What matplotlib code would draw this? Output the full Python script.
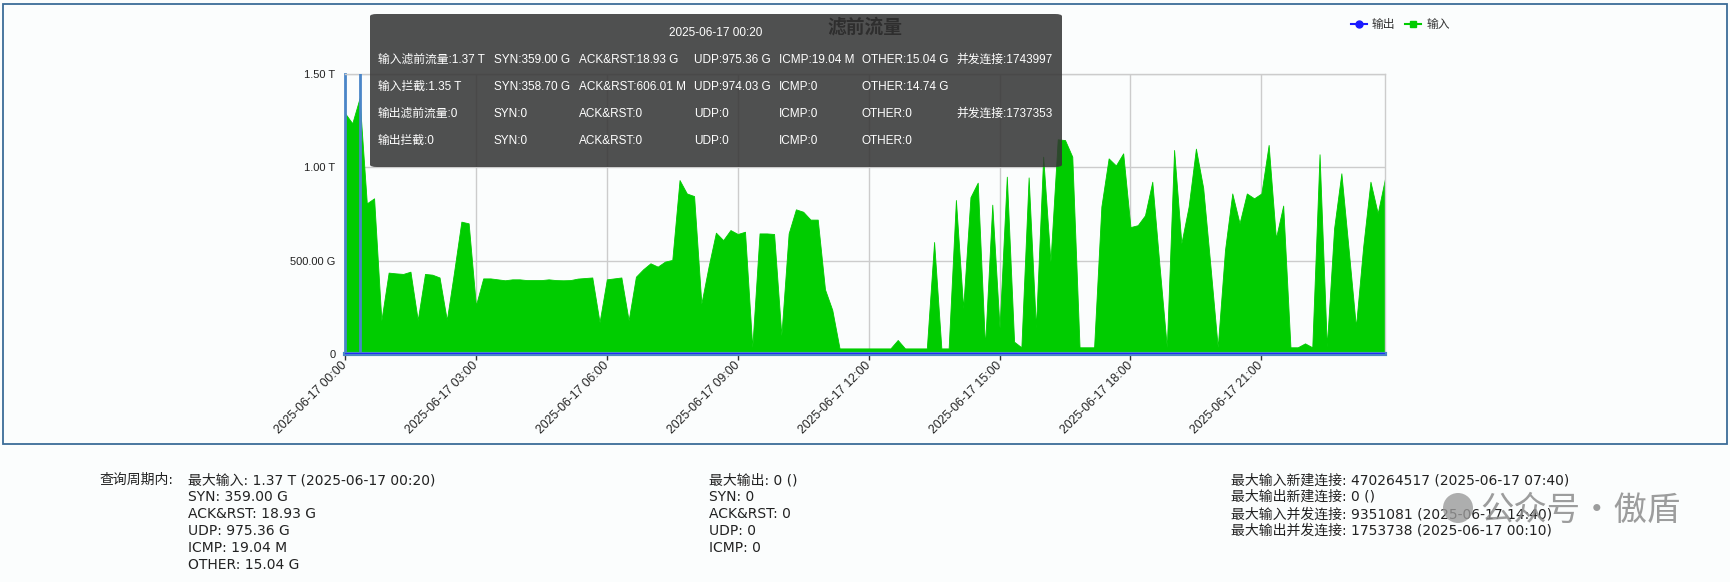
import matplotlib
matplotlib.use("Agg")
import matplotlib.pyplot as plt
import pandas as pd
from matplotlib.patches import FancyBboxPatch, Rectangle, Ellipse
from matplotlib.lines import Line2D

plt.rcParams["font.family"] = ["Liberation Sans", "Noto Sans CJK SC"]

# 输入滤前流量 (T), one value every 10 minutes
in_tbps = [
    1.29, 1.236, 1.37, 0.807, 0.834, 0.18, 0.436, 0.432, 0.429, 0.441, 0.182, 0.429,
    0.425, 0.41, 0.182, 0.44, 0.709, 0.70, 0.26, 0.405, 0.405, 0.40, 0.395, 0.40,
    0.40, 0.396, 0.396, 0.396, 0.40, 0.396, 0.395, 0.396, 0.404, 0.407, 0.41, 0.17,
    0.40, 0.405, 0.41, 0.18, 0.414, 0.454, 0.486, 0.468, 0.495, 0.504, 0.932, 0.86,
    0.846, 0.27, 0.47, 0.65, 0.61, 0.664, 0.643, 0.655, 0.036, 0.646, 0.646, 0.643,
    0.10, 0.646, 0.775, 0.762, 0.72, 0.72, 0.346, 0.236, 0.03, 0.03, 0.03, 0.03,
    0.03, 0.03, 0.03, 0.03, 0.075, 0.03, 0.03, 0.03, 0.03, 0.60, 0.03, 0.03,
    0.825, 0.245, 0.84, 0.918, 0.04, 0.80, 0.14, 0.95, 0.066, 0.036, 0.946, 0.14,
    1.057, 0.495, 1.15, 1.146, 1.057, 0.036, 0.036, 0.036, 0.79, 1.048, 1.01, 1.075,
    0.68, 0.69, 0.743, 0.923, 0.47, 0.036, 1.093, 0.593, 0.79, 1.10, 0.89, 0.47,
    0.036, 0.557, 0.86, 0.70, 0.86, 0.834, 0.86, 1.12, 0.62, 0.795, 0.036, 0.036,
    0.057, 0.036, 1.07, 0.04, 0.673, 0.968, 0.56, 0.146, 0.575, 0.923, 0.754, 0.94,
]
# 输出 is 0 for the whole day
out_tbps = [0.0] * len(in_tbps)

times = pd.date_range("2025-06-17 00:00", periods=len(in_tbps), freq="10min")
hover_idx = 2  # 00:20

y_ticks = [0, 0.5, 1.0, 1.5]
y_labels = ["0", "500.00 G", "1.00 T", "1.50 T"]
x_ticks = pd.date_range("2025-06-17 00:00", periods=8, freq="3h")
x_labels = [t.strftime("%Y-%m-%d %H:%M") for t in x_ticks]

tip_date = "2025-06-17 00:20"
tip_rows = [
    ["输入滤前流量:1.37 T", "SYN:359.00 G", "ACK&RST:18.93 G", "UDP:975.36 G", "ICMP:19.04 M", "OTHER:15.04 G", "并发连接:1743997"],
    ["输入拦截:1.35 T", "SYN:358.70 G", "ACK&RST:606.01 M", "UDP:974.03 G", "ICMP:0", "OTHER:14.74 G", ""],
    ["输出滤前流量:0", "SYN:0", "ACK&RST:0", "UDP:0", "ICMP:0", "OTHER:0", "并发连接:1737353"],
    ["输出拦截:0", "SYN:0", "ACK&RST:0", "UDP:0", "ICMP:0", "OTHER:0", ""],
]

summary_in = ["最大输入: 1.37 T (2025-06-17 00:20)", "SYN: 359.00 G", "ACK&RST: 18.93 G",
              "UDP: 975.36 G", "ICMP: 19.04 M", "OTHER: 15.04 G"]
summary_out = ["最大输出: 0 ()", "SYN: 0", "ACK&RST: 0", "UDP: 0", "ICMP: 0"]
summary_conn = ["最大输入新建连接: 470264517 (2025-06-17 07:40)", "最大输出新建连接: 0 ()",
                "最大输入并发连接: 9351081 (2025-06-17 14:40)", "最大输出并发连接: 1753738 (2025-06-17 00:10)"]

W, H = 1731, 582
fig = plt.figure(figsize=(W / 100, H / 100), dpi=100, facecolor="#fbfdfd")


def fx(px):
    return px / W


def fy(py):
    return 1 - py / H


# outer frame around the chart
fig.patches.append(Rectangle((fx(3), fy(444)), fx(1727) - fx(3), fy(4) - fy(444),
                             transform=fig.transFigure, fill=False,
                             edgecolor="#3b6c98", lw=1.3, zorder=0))

ax = fig.add_axes([fx(345), fy(354), fx(1385) - fx(345), fy(74) - fy(354)])
ax.set_facecolor("none")

ax.fill_between(times, in_tbps, color="#00cc00", lw=0.6, edgecolor="#00cc00", zorder=2)
ax.plot(times, out_tbps, color="#1a1aff", lw=1.2, zorder=4)
ax.axvline(times[hover_idx], color="#4a86c8", lw=2, zorder=3)

ax.set_xlim(times[0], times[-1])
ax.set_ylim(0, 1.5)
ax.set_yticks(y_ticks, y_labels, fontsize=8, color="#222222")
ax.set_xticks(x_ticks, x_labels, fontsize=8.8, color="#222222",
              rotation=45, ha="right", va="center", rotation_mode="anchor")
ax.tick_params(axis="y", length=0, pad=7)
ax.tick_params(axis="x", length=4, width=1, color="#333333", pad=3)
ax.grid(True, color="#cccccc", lw=1, zorder=0)

for side in ["top", "right"]:
    ax.spines[side].set_color("#cccccc")
    ax.spines[side].set_linewidth(1)
ax.spines["left"].set_color("#4a86c8")
ax.spines["left"].set_linewidth(2)
ax.spines["bottom"].set_color("#4a86c8")
ax.spines["bottom"].set_linewidth(3)

fig.text(fx(865), fy(27), "滤前流量", ha="center", va="center", fontsize=13.5,
         fontweight="bold", color="#111111", zorder=1)

# legend
handles = [Line2D([], [], color="#1a1aff", marker="o", markersize=5, lw=1.5),
           Line2D([], [], color="#00cc00", marker="s", markersize=5, lw=1.5)]
fig.legend(handles, ["输出", "输入"], loc="center left",
           bbox_to_anchor=(fx(1340), fy(25)), ncol=2, frameon=False,
           handlelength=1.4, handletextpad=0.4, columnspacing=0.8,
           fontsize=8.5, labelcolor="#333333")

# hover tooltip
fig.patches.append(FancyBboxPatch((fx(370), fy(167)), fx(1062) - fx(370), fy(14) - fy(167),
                                  boxstyle="round,pad=0,rounding_size=0.004",
                                  transform=fig.transFigure, facecolor="#333333",
                                  edgecolor="none", alpha=0.86, zorder=5))
fig.text(fx(716), fy(33), tip_date, ha="center", va="center", fontsize=8.5,
         color="white", zorder=6)
col_x = [378, 494, 579, 694, 779, 862, 956]
row_y = [60, 87, 114, 141]
for r, row in enumerate(tip_rows):
    for c, txt in enumerate(row):
        if txt:
            fig.text(fx(col_x[c]), fy(row_y[r]), txt, ha="left", va="center",
                     fontsize=8.5, color="white", zorder=6)

# summary under the chart
body_font = ["DejaVu Sans", "Noto Sans CJK SC"]
line_y = [480, 497, 514, 531, 548, 565]
fig.text(fx(99), fy(line_y[0]), "查询周期内:", ha="left", va="center",
         fontsize=10, color="#222222", family=body_font)
for col, x in [(summary_in, 188), (summary_out, 709), (summary_conn, 1231)]:
    for k, txt in enumerate(col):
        fig.text(fx(x), fy(line_y[k]), txt, ha="left", va="center",
                 fontsize=10, color="#222222", family=body_font)

# watermark
fig.patches.append(Ellipse((fx(1458), fy(508)), 30 / W, 30 / H, transform=fig.transFigure,
                           facecolor="#9a9a9a", edgecolor="none", alpha=0.8, zorder=7))
fig.text(fx(1480), fy(510), "公众号·傲盾", ha="left", va="center", fontsize=24,
         color="#8c8c8c", alpha=0.85, family=["Noto Sans CJK SC"], zorder=7)

fig.savefig("out.png", dpi=100, facecolor=fig.get_facecolor())
